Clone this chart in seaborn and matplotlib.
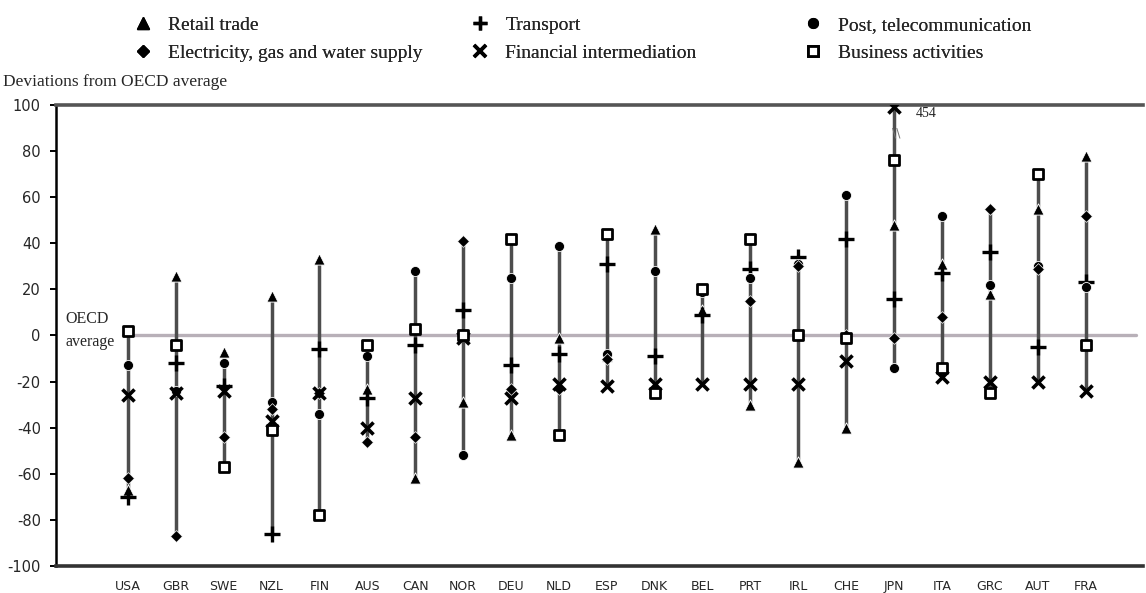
import numpy as np
import pandas as pd
import seaborn as sns
import matplotlib.pyplot as plt
from matplotlib.lines import Line2D

countries = ["USA", "GBR", "SWE", "NZL", "FIN", "AUS", "CAN", "NOR", "DEU", "NLD", "ESP",
             "DNK", "BEL", "PRT", "IRL", "CHE", "JPN", "ITA", "GRC", "AUT", "FRA"]

retail_trade = [-67, 26, -7, 17, 33, -23, -62, -29, -43, -1, -9, 46, 11, -30, -55, -40, 48, 31, 18, 55, 78]
transport = [-70, -12, -22, -86, -6, -27, -4, 11, -13, -8, 31, -9, 9, 29, 34, 42, 16, 27, 36, -5, 23]
post_telecom = [-13, -24, -12, -29, -34, -9, 28, -52, 25, 39, -8, 28, 19, 25, 31, 61, -14, 52, 22, 30, 21]
electricity = [-62, -87, -44, -32, -25, -46, -44, 41, -23, -23, -10, -23, 20, 15, 30, 0, -1, 8, 55, 29, 52]
financial = [-26, -25, -24, -37, -25, -40, -27, -1, -27, -21, -22, -21, -21, -21, -21, -11, 454, -18, -20, -20, -24]
business = [2, -4, -57, -41, -78, -4, 3, 0, 42, -43, 44, -25, 20, 42, 0, -1, 76, -14, -25, 70, -4]

sectors = ["Retail trade", "Transport", "Post, telecommunication",
           "Electricity, gas and water supply", "Financial intermediation", "Business activities"]

df = pd.DataFrame({
    "country": countries,
    sectors[0]: retail_trade,
    sectors[1]: transport,
    sectors[2]: post_telecom,
    sectors[3]: electricity,
    sectors[4]: financial,
    sectors[5]: business,
})
long = df.melt(id_vars="country", var_name="sector", value_name="value")
long["pos"] = long["country"].map({c: i for i, c in enumerate(countries)})
# values above the axis top are shown at the top edge (JPN financial = 454)
long["shown"] = long["value"].clip(upper=99)

styles = {
    sectors[0]: dict(marker="^", s=65, color="black"),
    sectors[1]: dict(marker="+", s=130, color="black", linewidth=2.4),
    sectors[2]: dict(marker="o", s=52, color="black"),
    sectors[3]: dict(marker="D", s=36, color="black"),
    sectors[4]: dict(marker="x", s=75, color="black", linewidth=2.6),
    sectors[5]: dict(marker="s", s=45, color="white", edgecolor="black", linewidth=2.0),
}

sns.set_style("white")
plt.rcParams["axes.unicode_minus"] = False
serif = ["Liberation Serif", "DejaVu Serif"]

fig = plt.figure(figsize=(11.46, 5.93), dpi=100)
ax = fig.add_axes([0.0489, 0.0455, 0.9485, 0.7775])
xmin, xmax = -1.5, 21.2

# OECD average reference line
ax.axhline(0, xmin=(-0.1 - xmin) / (xmax - xmin), xmax=(21.05 - xmin) / (xmax - xmin),
           color="#b8b0b8", lw=2.4, zorder=1)

# range line per country
span = long.groupby("pos")["shown"].agg(["min", "max"]).reset_index()
ax.vlines(span["pos"], span["min"], span["max"], color="#4d4d4d", lw=2.5, zorder=2)

for sector in sectors:
    sub = long[long["sector"] == sector]
    sns.scatterplot(data=sub, x="pos", y="shown", ax=ax, legend=False, zorder=3, **styles[sector])

ax.set_xlim(xmin, xmax)
ax.set_ylim(-100, 100)
ax.set_xlabel("")
ax.set_ylabel("")

ax.set_yticks(np.arange(-100, 101, 20))
ax.set_xticks(np.arange(-0.5, 21, 1))
ax.set_xticklabels([])
ax.set_xticks(np.arange(len(countries)), minor=True)
ax.set_xticklabels(countries, minor=True, fontsize=9, family="DejaVu Sans")
ax.tick_params(axis="x", which="major", direction="inout", length=8, width=1.2, color="black")
ax.tick_params(axis="x", which="minor", length=0, pad=10)
ax.tick_params(axis="y", direction="out", length=4, width=1.4, color="black", pad=7,
               labelsize=10.5, left=True)

ax.spines["right"].set_visible(False)
ax.spines["top"].set_color("#555555")
ax.spines["top"].set_linewidth(2.6)
ax.spines["bottom"].set_color("#333333")
ax.spines["bottom"].set_linewidth(2.6)
ax.spines["left"].set_color("black")
ax.spines["left"].set_linewidth(1.8)

ax.text(-1.3, 7, "OECD", family=serif, fontsize=11.5, va="center", ha="left")
ax.text(-1.3, -3, "average", family=serif, fontsize=11.5, va="center", ha="left")
ax.text(16.45, 96.5, "454", family=serif, fontsize=10, va="center", ha="left")
ax.text(16.05, 88, "\\\\", fontsize=9, color="#777777", va="center", ha="center", zorder=4)

fig.text(0.003, 1 - 82 / 593, "Deviations from OECD average", family=serif, fontsize=12.5,
         va="center", ha="left")

# legend: three columns of two entries each
columns = [(sectors[0], sectors[3]), (sectors[1], sectors[4]), (sectors[2], sectors[5])]
col_x = [143, 480, 813]
for (top, bottom), xpx in zip(columns, col_x):
    handles = []
    for sector in (top, bottom):
        st = styles[sector]
        face = "white" if sector == sectors[5] else "black"
        msize = {"^": 8, "+": 10, "o": 7, "D": 6, "x": 8, "s": 7}[st["marker"]]
        handles.append(Line2D([], [], ls="", marker=st["marker"], markersize=msize,
                              markerfacecolor=face, markeredgecolor="black",
                              markeredgewidth=st.get("linewidth", 1.0)))
    leg = fig.legend(handles, [top, bottom], loc="upper left",
                     bbox_to_anchor=((xpx - 9.7) / 1146, 1 - 16 / 593),
                     frameon=False, borderpad=0, borderaxespad=0, handlelength=1.0,
                     handletextpad=0.8, labelspacing=0.56,
                     prop={"family": serif, "size": 14})
    fig.add_artist(leg)

fig.savefig("out.png", dpi=100)
